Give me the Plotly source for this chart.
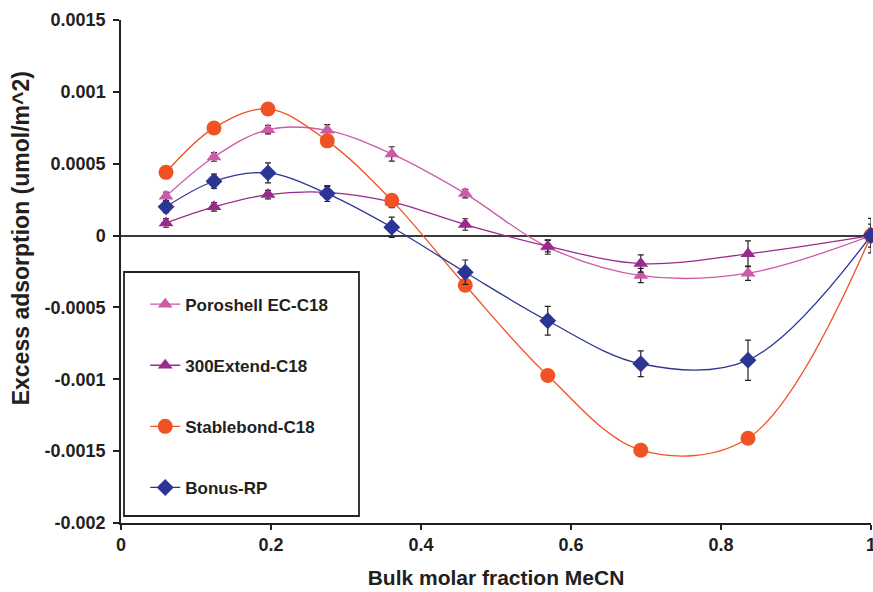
import plotly.graph_objects as go

x_frac = [0.06, 0.124, 0.196, 0.275, 0.361, 0.459, 0.569, 0.693, 0.836, 1.0]

poroshell = [0.000273, 0.000547, 0.000737, 0.000732, 0.000568, 0.000292, -0.000080, -0.000278, -0.000262, 0.0]
extend300 = [0.000088, 0.000200, 0.000285, 0.000301, 0.000234, 0.000077, -0.000074, -0.000195, -0.000127, 0.0]
stablebond = [0.000440, 0.000749, 0.000881, 0.000659, 0.000245, -0.000346, -0.000974, -0.001493, -0.001410, 0.0]
bonus_rp = [0.000200, 0.000378, 0.000436, 0.000292, 0.000058, -0.000255, -0.000593, -0.000892, -0.000867, 0.0]

err_poroshell = [0.00003, 0.00003, 0.00003, 0.00004, 0.00005, 0.00003, 0.00005, 0.00005, 0.00005, 0.00008]
err_extend300 = [0.00003, 0.00003, 0.00003, 0.00004, 0.00004, 0.00004, 0.00004, 0.00006, 0.00009, 0.00005]
err_bonus_rp = [0.00004, 0.00005, 0.00007, 0.000055, 0.00007, 0.000085, 0.0001, 0.00009, 0.00014, 0.00012]

names = ["Poroshell EC-C18", "300Extend-C18", "Stablebond-C18", "Bonus-RP"]
colors = ["#CC5AA8", "#9B2A8F", "#F15224", "#2B3594"]
symbols = ["triangle-up", "triangle-up", "circle", "diamond"]
sizes = [13, 13, 15, 13]
series = [poroshell, extend300, stablebond, bonus_rp]
errors = [err_poroshell, err_extend300, None, err_bonus_rp]

x_ticks = [0, 0.2, 0.4, 0.6, 0.8, 1]
x_tick_text = ["0", "0.2", "0.4", "0.6", "0.8", "1"]
y_ticks = [-0.002, -0.0015, -0.001, -0.0005, 0, 0.0005, 0.001, 0.0015]
y_tick_text = ["-0.002", "-0.0015", "-0.001", "-0.0005", "0", "0.0005", "0.001", "0.0015"]

FONT = "Liberation Sans, Arial, sans-serif"
TXT = "#231F20"

fig = go.Figure()
for i in range(4):
    err = None
    if errors[i] is not None:
        err = dict(type="data", array=errors[i], visible=True, color="#222222",
                   thickness=1.2, width=3)
    fig.add_trace(go.Scatter(
        x=x_frac, y=series[i], name=names[i], mode="lines+markers",
        line=dict(color=colors[i], width=1.3, shape="spline", smoothing=1.0),
        marker=dict(symbol=symbols[i], size=sizes[i], color=colors[i], line=dict(width=0)),
        error_y=err, cliponaxis=False, legendgroup=names[i],
    ))

fig.add_shape(type="rect", xref="paper", yref="paper",
              x0=0.004, x1=0.3173, y0=0.0139, y1=0.499,
              line=dict(color="#222222", width=1.8), fillcolor="rgba(0,0,0,0)")

fig.add_annotation(text="Excess adsorption (umol/m^2)", textangle=-90,
                   xref="paper", yref="paper", x=-0.134, y=0.565,
                   xanchor="center", yanchor="middle", showarrow=False,
                   font=dict(family=FONT, size=23, weight="bold", color=TXT))

fig.update_layout(
    width=873, height=592,
    margin=dict(l=121, r=2, t=20, b=69, autoexpand=False),
    paper_bgcolor="white", plot_bgcolor="white",
    font=dict(family=FONT, color=TXT),
    showlegend=True,
    legend=dict(x=0.0323, y=0.47, xanchor="left", yanchor="top",
                bgcolor="rgba(0,0,0,0)", borderwidth=0,
                font=dict(family=FONT, size=17, weight="bold", color=TXT),
                tracegroupgap=36, traceorder="grouped"),
    xaxis=dict(range=[0, 1], tickvals=x_ticks, ticktext=x_tick_text,
               showline=True, linecolor=TXT, linewidth=1.5, automargin=False,
               ticks="outside", ticklen=5, tickwidth=1.5, tickcolor=TXT,
               showgrid=False, zeroline=False, ticklabeloverflow="allow",
               tickfont=dict(family=FONT, size=18, weight="bold", color=TXT),
               title=dict(text="Bulk molar fraction MeCN",
                          font=dict(family=FONT, size=21, weight="bold", color=TXT),
                          standoff=16)),
    yaxis=dict(range=[-0.002, 0.0015], tickvals=y_ticks, ticktext=y_tick_text,
               showline=True, linecolor=TXT, linewidth=1.5, automargin=False,
               ticks="outside", ticklen=6, tickwidth=1.5, tickcolor=TXT,
               showgrid=False, zeroline=True, zerolinecolor="#3a3a3a", zerolinewidth=1.5,
               ticklabeloverflow="allow", ticklabelstandoff=4,
               tickfont=dict(family=FONT, size=18, weight="bold", color=TXT)),
)

fig.write_html("out.html")
